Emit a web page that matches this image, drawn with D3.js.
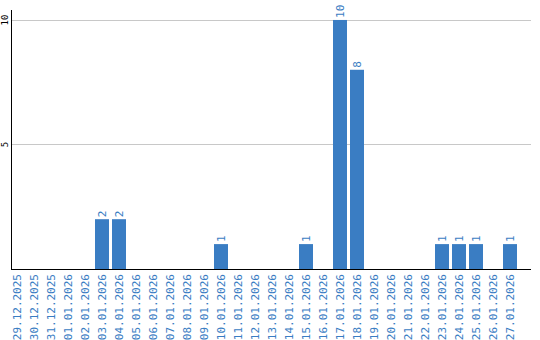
<!DOCTYPE html>
<html>
<head>
<meta charset="utf-8">
<script src="https://cdn.jsdelivr.net/npm/d3@7"></script>
<style>
  body { margin: 0; background: #fff; }
  svg { display: block; }
</style>
</head>
<body>
<svg id="chart" width="540" height="340"></svg>
<script>
const dates = [
  "29.12.2025", "30.12.2025", "31.12.2025", "01.01.2026", "02.01.2026",
  "03.01.2026", "04.01.2026", "05.01.2026", "06.01.2026", "07.01.2026",
  "08.01.2026", "09.01.2026", "10.01.2026", "11.01.2026", "12.01.2026",
  "13.01.2026", "14.01.2026", "15.01.2026", "16.01.2026", "17.01.2026",
  "18.01.2026", "19.01.2026", "20.01.2026", "21.01.2026", "22.01.2026",
  "23.01.2026", "24.01.2026", "25.01.2026", "26.01.2026", "27.01.2026",
];
const counts = [
  0, 0, 0, 0, 0,
  2, 2, 0, 0, 0,
  0, 0, 1, 0, 0,
  0, 0, 1, 0, 10,
  8, 0, 0, 0, 0,
  1, 1, 1, 0, 1,
];
const yTicks = [5, 10];

const blue = "#3a7dc3";
const mono = "'DejaVu Sans Mono', monospace";

const svg = d3.select("#chart");

const x = d3
  .scaleBand()
  .domain(dates)
  .range([10, 517])
  .paddingInner(3 / 17)
  .paddingOuter(0);

const y = d3.scaleLinear().domain([0, 10.4]).range([269, 10]);

// gridlines
svg
  .selectAll("line.grid")
  .data(yTicks)
  .enter()
  .append("line")
  .attr("class", "grid")
  .attr("x1", 11)
  .attr("x2", 531)
  .attr("y1", (d) => Math.round(y(d)) + 0.5)
  .attr("y2", (d) => Math.round(y(d)) + 0.5)
  .style("stroke", "#c8c8c8")
  .style("stroke-width", 1);

// y tick labels
svg
  .selectAll("text.ytick")
  .data(yTicks)
  .enter()
  .append("text")
  .attr("class", "ytick")
  .attr("transform", (d) => `translate(8,${y(d)}) rotate(-90)`)
  .attr("text-anchor", "middle")
  .attr("font-family", mono)
  .attr("font-size", "9px")
  .attr("fill", "#000")
  .text((d) => d);

// only days with a count get a bar
const nonZero = counts
  .map((v, i) => ({ date: dates[i], value: v }))
  .filter((d) => d.value > 0);

svg
  .selectAll("rect.bar")
  .data(nonZero)
  .enter()
  .append("rect")
  .attr("class", "bar")
  .attr("x", (d) => x(d.date))
  .attr("y", (d) => y(d.value))
  .attr("width", x.bandwidth())
  .attr("height", (d) => y(0) - y(d.value))
  .style("fill", blue);

// value labels
svg
  .selectAll("text.value")
  .data(nonZero)
  .enter()
  .append("text")
  .attr("class", "value")
  .attr(
    "transform",
    (d) => `translate(${x(d.date) + x.bandwidth() / 2 + 4},${y(d.value) - 2}) rotate(-90)`
  )
  .attr("text-anchor", "start")
  .attr("font-family", mono)
  .attr("font-size", "11px")
  .attr("fill", blue)
  .text((d) => d.value);

// axis lines
svg
  .append("line")
  .attr("x1", 11.5)
  .attr("x2", 11.5)
  .attr("y1", 10)
  .attr("y2", 270)
  .style("stroke", "#000");

svg
  .append("line")
  .attr("x1", 11)
  .attr("x2", 531)
  .attr("y1", 269.5)
  .attr("y2", 269.5)
  .style("stroke", "#000");

// x labels
svg
  .selectAll("text.xlabel")
  .data(dates)
  .enter()
  .append("text")
  .attr("class", "xlabel")
  .attr(
    "transform",
    (d) => `translate(${x(d) + x.bandwidth() / 2 + 4},274) rotate(-90)`
  )
  .attr("text-anchor", "end")
  .attr("font-family", mono)
  .attr("font-size", "11px")
  .attr("fill", blue)
  .text((d) => d);
</script>
</body>
</html>
